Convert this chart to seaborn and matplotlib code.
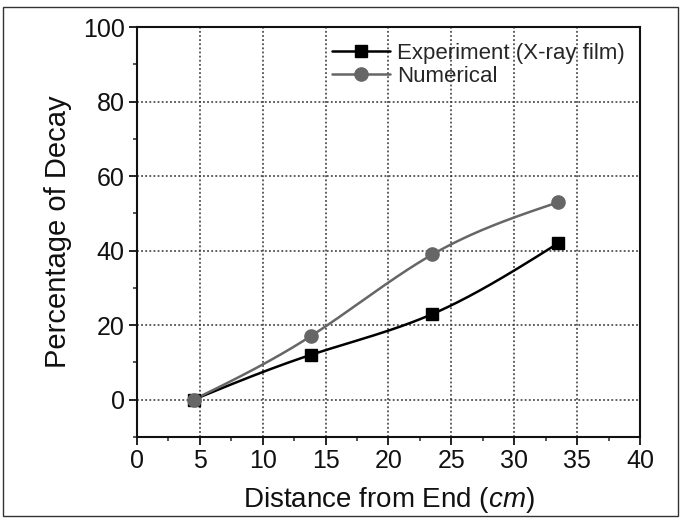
import numpy as np
import pandas as pd
import matplotlib
matplotlib.use("Agg")
import matplotlib.pyplot as plt
import seaborn as sns
from matplotlib.ticker import MultipleLocator
from matplotlib.patches import Rectangle

distance = [4.5, 13.8, 23.5, 33.5]
experiment = [0, 12, 23, 42]
numerical = [0, 17, 39, 53]
series_names = ["Experiment (X-ray film)", "Numerical"]
x_ticks = [0, 5, 10, 15, 20, 25, 30, 35, 40]
y_ticks = [0, 20, 40, 60, 80, 100]

sns.set_style("white")
plt.rcParams['font.family'] = ['Liberation Sans', 'DejaVu Sans']
plt.rcParams['mathtext.fontset'] = 'custom'
plt.rcParams['mathtext.it'] = 'Liberation Sans:italic'
plt.rcParams['mathtext.rm'] = 'Liberation Sans'


def natural_spline(x, y, n=200):
    x = np.asarray(x, float); y = np.asarray(y, float)
    k = len(x)
    h = np.diff(x)
    A = np.zeros((k, k)); b = np.zeros(k)
    A[0, 0] = 1; A[-1, -1] = 1
    for i in range(1, k - 1):
        A[i, i - 1] = h[i - 1]
        A[i, i] = 2 * (h[i - 1] + h[i])
        A[i, i + 1] = h[i]
        b[i] = 3 * ((y[i + 1] - y[i]) / h[i] - (y[i] - y[i - 1]) / h[i - 1])
    c = np.linalg.solve(A, b)
    xs = np.linspace(x[0], x[-1], n)
    ys = np.empty_like(xs)
    for j, xv in enumerate(xs):
        i = min(np.searchsorted(x, xv, side='right') - 1, k - 2)
        dx = xv - x[i]
        bi = (y[i + 1] - y[i]) / h[i] - h[i] * (2 * c[i] + c[i + 1]) / 3
        di = (c[i + 1] - c[i]) / (3 * h[i])
        ys[j] = y[i] + bi * dx + c[i] * dx ** 2 + di * dx ** 3
    return xs, ys


fig = plt.figure(figsize=(6.83, 5.22), dpi=100)
ax = fig.add_axes([0.2006, 0.163, 0.7364, 0.785])
fig.patches.append(Rectangle((0.005, 0.012), 0.988, 0.975, transform=fig.transFigure,
                             fill=False, edgecolor='#333333', linewidth=1.0))

colors = ['#000000', '#666666']
markers = ['s', 'o']
msizes = [8.5, 9.5]
for name, vals, col, mk, ms in zip(series_names, [experiment, numerical], colors, markers, msizes):
    xs, ys = natural_spline(distance, vals)
    sns.lineplot(x=xs, y=ys, ax=ax, color=col, linewidth=1.8, sort=False, zorder=3)
    ax.plot(distance, vals, linestyle='none', marker=mk, markersize=ms, color=col, zorder=4)
    ax.plot([], [], color=col, marker=mk, markersize=ms, linewidth=1.8, label=name)

ax.set_xlim(0, 40)
ax.set_ylim(-10, 100)
ax.set_xticks(x_ticks)
ax.set_yticks(y_ticks)
ax.xaxis.set_minor_locator(MultipleLocator(2.5))
ax.yaxis.set_minor_locator(MultipleLocator(10))
ax.tick_params(axis='both', which='major', direction='out', length=6, width=1.3,
               labelsize=18, colors='#111111', bottom=True, left=True, pad=3)
ax.tick_params(axis='both', which='minor', direction='out', length=3, width=1.1,
               bottom=True, left=True)
ax.grid(True, which='major', linestyle=(0, (1.2, 1.5)), color='#333333', linewidth=1.1)
for s in ax.spines.values():
    s.set_color('#111111'); s.set_linewidth(1.5); s.set_visible(True)

ax.set_xlabel("Distance from End ($\\it{cm}$)", fontsize=20, labelpad=8, color='#111111')
ax.set_ylabel("Percentage of Decay", fontsize=21, labelpad=8, color='#111111')

leg = ax.legend(loc='upper right', frameon=False, fontsize=16, handlelength=2.6,
                handletextpad=0.3, labelspacing=0.1, borderaxespad=0.3)

fig.savefig("out.png", dpi=100, facecolor='white')
